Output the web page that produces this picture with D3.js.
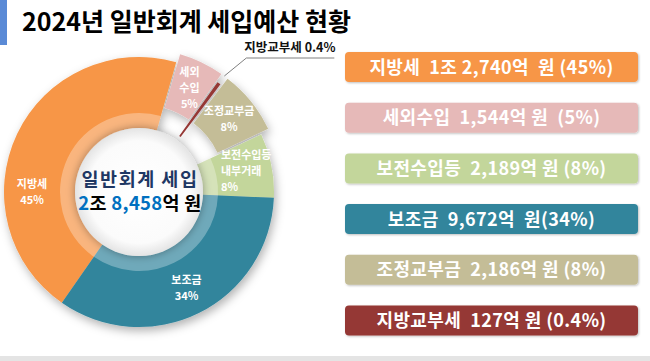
<!DOCTYPE html>
<html><head><meta charset="utf-8">
<script src="https://cdn.jsdelivr.net/npm/d3@7"></script>
<style>
body{margin:0;background:#fff;}
svg{display:block;font-family:"Noto Sans CJK KR","Noto Sans",sans-serif;}
</style></head><body>
<svg id="c" width="650" height="361"></svg>
<script>
// ---- data ----
const titleText = "2024년 일반회계 세입예산 현황";
const categories = ["지방세","세외수입","지방교부세","조정교부금","보전수입등","보조금"];
const values = [12740,1544,127,2186,2189,9672];
const sliceLabels = [["지방세","45%"],["세외","수입","5%"],[],["조정교부금","8%"],["보전수입등","내부거래","8%"],["보조금","34%"]];
const legendOrder = ["지방세","세외수입","보전수입등","보조금","조정교부금","지방교부세"];
const legendTexts = ["지방세  1조 2,740억  원 (45%)","세외수입  1,544억 원  (5%)","보전수입등  2,189억 원 (8%)","보조금  9,672억  원(34%)","조정교부금  2,186억 원 (8%)","지방교부세  127억 원 (0.4%)"];
const calloutText = "지방교부세 0.4%";
const centerLine1 = "일반회계 세입";
const centerParts = [["2",true],["조 ",false],["8,458",true],["억 원",false]];

// ---- style / layout ----
const colors = {"지방세":"#f79646","세외수입":"#e6b9b8","지방교부세":"#953735","조정교부금":"#c4bd97","보전수입등":"#c3d69b","보조금":"#31859c"};
const exploded = {"세외수입":9,"조정교부금":9,"지방교부세":7};
const labelAngleOverride = {"지방세":270};
const labelAlign = {"보전수입등":"start"};
const cx = 139, cy = 192, R = 135, rBand = 79, rIn = 64;

const svg = d3.select("#c");
const defs = svg.append("defs");
const f1 = defs.append("filter").attr("id","ds").attr("x","-20%").attr("y","-20%").attr("width","140%").attr("height","140%");
f1.append("feDropShadow").attr("dx",2).attr("dy",4).attr("stdDeviation",5).attr("flood-color","#000").attr("flood-opacity",0.3);
const f2 = defs.append("filter").attr("id","ds2").attr("x","-20%").attr("y","-20%").attr("width","140%").attr("height","140%");
f2.append("feDropShadow").attr("dx",1).attr("dy",1).attr("stdDeviation",1).attr("flood-color","#000").attr("flood-opacity",0.25);
const f3 = defs.append("filter").attr("id","ds3").attr("x","-30%").attr("y","-30%").attr("width","160%").attr("height","160%");
f3.append("feDropShadow").attr("dx",0).attr("dy",0).attr("stdDeviation",4).attr("flood-color","#000").attr("flood-opacity",0.35);
const rg = defs.append("radialGradient").attr("id","cg");
rg.append("stop").attr("offset","0%").attr("stop-color","#ffffff");
rg.append("stop").attr("offset","80%").attr("stop-color","#fbfbfb");
rg.append("stop").attr("offset","100%").attr("stop-color","#e4e4e4");

// left bar + title
svg.append("rect").attr("x",0).attr("y",0).attr("width",7).attr("height",45).attr("fill","#5a8ad6");
svg.append("text").attr("x",22).attr("y",31).attr("font-size",25).attr("font-weight",700).attr("fill","#000").text(titleText);
// bottom line
svg.append("rect").attr("x",0).attr("y",356).attr("width",650).attr("height",5).attr("fill","#e4e4e4");

const deg = Math.PI/180;
const start = -145.16*deg;
const pie = d3.pie().sort(null).value(d=>d.v).startAngle(start).endAngle(start+2*Math.PI);
const arcsData = pie(categories.map((c,i)=>({c, v:values[i], lab:sliceLabels[i]})));

const g = svg.append("g").attr("transform",`translate(${cx},${cy})`);
const ringG = g.append("g").attr("filter","url(#ds)");
const full = d3.arc().innerRadius(rIn).outerRadius(R);
const outerOnly = d3.arc().innerRadius(rBand).outerRadius(R);
const band = d3.arc().innerRadius(rIn).outerRadius(rBand);
const thin = d3.arc().innerRadius(rIn-2).outerRadius(R-7);

function offs(d, k){
  const a = (d.startAngle+d.endAngle)/2;
  return [Math.sin(a)*k, -Math.cos(a)*k];
}

arcsData.forEach(d=>{
  const e = exploded[d.data.c];
  if(e){
    const [dx,dy] = offs(d,e);
    ringG.append("path").attr("d", d.data.c==="지방교부세" ? thin(d) : outerOnly(d))
      .attr("transform",`translate(${dx},${dy})`).attr("fill",colors[d.data.c]);
  } else {
    ringG.append("path").attr("d",full(d)).attr("fill",colors[d.data.c]);
  }
});
arcsData.forEach(d=>{
  if(!exploded[d.data.c]) g.append("path").attr("d",band(d)).attr("fill","#fff").attr("opacity",0.3);
});
g.append("circle").attr("r",rIn).attr("fill","url(#cg)").attr("filter","url(#ds3)");

// slice labels
const lr = 107;
arcsData.forEach(d=>{
  if(!d.data.lab.length) return;
  let a = (d.startAngle+d.endAngle)/2;
  if(labelAngleOverride[d.data.c]!==undefined) a = labelAngleOverride[d.data.c]*deg;
  let r = lr + (exploded[d.data.c]||0);
  const x = Math.sin(a)*r, y = -Math.cos(a)*r;
  const n = d.data.lab.length, lh = 16;
  const anchor = labelAlign[d.data.c] || "middle";
  d.data.lab.forEach((s,i)=>{
    g.append("text").attr("fill","#fff").attr("font-size",11).attr("font-weight",700)
      .attr("text-anchor",anchor)
      .attr("x", anchor==="start" ? x-23 : x).attr("y", y + (i-(n-1)/2)*lh + 4).text(s);
  });
});

// callout for 지방교부세
const dk = arcsData.find(d=>d.data.c==="지방교부세");
const am = (dk.startAngle+dk.endAngle)/2;
const p0 = [Math.sin(am)*144, -Math.cos(am)*144];
const p1 = [p0[0]+22, p0[1]-18];
const p2 = [p1[0]+88, p1[1]];
g.append("polyline").attr("points",[p0,p1,p2].map(p=>p.join(",")).join(" "))
  .attr("fill","none").attr("stroke","#808080").attr("stroke-width",1);
g.append("text").attr("x",p1[0]-2).attr("y",p1[1]-6).attr("font-size",12.5).attr("font-weight",700).attr("fill","#111").text(calloutText);

// center text
g.append("text").attr("x",1).attr("y",-6).attr("text-anchor","middle").attr("font-size",18.5).attr("font-weight",700)
  .attr("fill","#1f3864").attr("letter-spacing",1.5).text(centerLine1);
const ct = g.append("text").attr("x",1).attr("y",18).attr("text-anchor","middle").attr("font-size",18.5).attr("font-weight",700)
  .attr("letter-spacing",0.3);
centerParts.forEach(([s,blue])=>ct.append("tspan").attr("fill",blue?"#0070c0":"#000").text(s));

// legend boxes
const ly = d3.scaleBand().domain(legendOrder).range([52, 52+6*50.7]).paddingInner(0);
const lg = svg.append("g");
legendOrder.forEach((c,i)=>{
  const y = ly(c);
  lg.append("rect").attr("x",345).attr("y",y).attr("width",293).attr("height",30).attr("rx",4)
    .attr("fill",colors[c]).attr("filter","url(#ds2)");
  lg.append("text").attr("x",345+146.5).attr("y",y+21.5).attr("text-anchor","middle")
    .attr("font-size",18).attr("font-weight",700).attr("fill","#fff").attr("letter-spacing",0.4)
    .text(legendTexts[i].replace(/  /g," \u00a0"));
});
</script>
</body></html>
